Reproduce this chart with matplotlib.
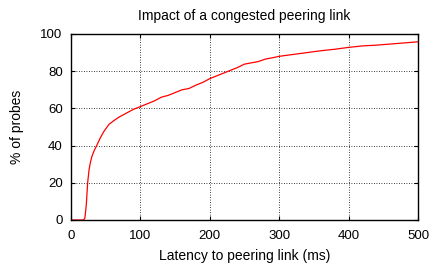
import matplotlib
matplotlib.use("Agg")
from matplotlib import pyplot as plt

# CDF
latency = [0, 18, 20, 22, 24, 26, 28, 30, 33, 37, 42, 48, 55, 62, 70, 80, 90,
           100, 110, 120, 130, 140, 150, 160, 170, 180, 190, 200, 210, 220,
           230, 240, 250, 260, 270, 280, 290, 300, 320, 340, 360, 380, 400,
           420, 440, 460, 480, 500]
pct = [0, 0, 1, 8, 20, 27, 31, 34, 37, 40, 44, 48, 51.5, 53.5, 55.5, 57.5, 59.5,
       61, 62.5, 64, 66, 67, 68.5, 70, 70.7, 72.5, 74, 76, 77.5, 79,
       80.5, 82, 83.8, 84.5, 85.2, 86.5, 87.2, 88, 89, 90, 91, 91.8, 92.8,
       93.6, 94, 94.6, 95.2, 95.8]

xticks = [0, 100, 200, 300, 400, 500]
yticks = [0, 20, 40, 60, 80, 100]

plt.rcParams['font.family'] = ['Liberation Sans', 'DejaVu Sans']

fig = plt.figure(figsize=(4.32, 2.66), dpi=100)
ax = fig.add_axes([71/432, 1 - 220/266, (418-71)/432, (220-34)/266])

ax.plot(latency, pct, color='red', lw=0.9)

ax.set_xlim(0, 500)
ax.set_ylim(0, 100)
ax.set_xticks(xticks)
ax.set_yticks(yticks)
ax.grid(True, color='black', linestyle=(0, (1, 2)), linewidth=0.6)
ax.tick_params(direction='in', top=True, right=True, labelsize=9.5, length=3)
ax.tick_params(axis='x', pad=7)
ax.tick_params(axis='y', pad=6)
for s in ax.spines.values():
    s.set_linewidth(1.0)

ax.set_title("Impact of a congested peering link", fontsize=10, pad=10)
ax.set_xlabel("Latency to peering link (ms)", fontsize=10, labelpad=5)
ax.set_ylabel("% of probes", fontsize=10, labelpad=12)

fig.savefig("out.png", dpi=100)
